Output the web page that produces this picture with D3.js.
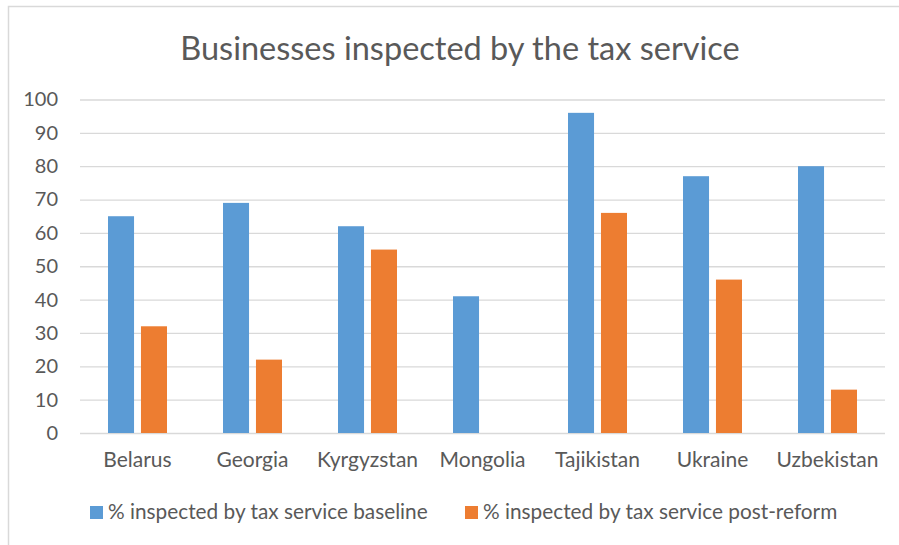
<!DOCTYPE html>
<html>
<head>
<meta charset="utf-8">
<script src="https://cdn.jsdelivr.net/npm/d3@7"></script>
<style>
  body { margin: 0; background: #fff; }
  text { font-family: Lato, "Open Sans", sans-serif; fill: #595959; }
</style>
</head>
<body>
<script>
// chart data
const countries = ["Belarus", "Georgia", "Kyrgyzstan", "Mongolia", "Tajikistan", "Ukraine", "Uzbekistan"]
const baseline = [65, 69, 62, 41, 96, 77, 80]
const postReform = [32, 22, 55, null, 66, 46, 13]
const seriesNames = ["% inspected by tax service baseline", "% inspected by tax service post-reform"]
const yTicks = [0, 10, 20, 30, 40, 50, 60, 70, 80, 90, 100]
const colors = ["#5B9BD5", "#ED7D31"]

const W = 899, H = 545
const plot = {left: 80, right: 885, top: 99.5, bottom: 433}

const svg = d3.select('body').append('svg')
    .attr('width', W)
    .attr('height', H)

// outer chart border (only top + left visible in the crop)
svg.append('path')
    .attr('d', `M8.5,${H} L8.5,6.5 L${W},6.5`)
    .attr('fill', 'none')
    .attr('stroke', '#d9d9d9')
    .attr('stroke-width', 1.5)

// title
svg.append('text')
    .attr('x', 460)
    .attr('y', 60)
    .attr('text-anchor', 'middle')
    .attr('font-size', 32.5)
    .text('Businesses inspected by the tax service')

const y = d3.scaleLinear()
    .domain([0, 100])
    .range([plot.bottom, plot.top])

const x0 = d3.scaleBand()
    .domain(countries)
    .range([plot.left, plot.right])

// two bars of ~26px with ~7px between, centred in each category
const groupW = 59
const x1 = d3.scaleBand()
    .domain([0, 1])
    .range([(x0.bandwidth() - groupW) / 2, (x0.bandwidth() + groupW) / 2])
    .paddingInner(0.21)

// gridlines + y labels
const yAxis = svg.append('g')
    .attr('transform', `translate(${plot.left},0)`)
    .call(d3.axisLeft(y).tickValues(yTicks).tickSize(-(plot.right - plot.left)).tickPadding(22))
yAxis.select('.domain').remove()
yAxis.selectAll('.tick line').attr('stroke', '#d9d9d9').attr('stroke-width', 1.3)
yAxis.selectAll('.tick text')
    .attr('font-size', 20)
    .attr('fill', '#595959')
    .style('font-family', 'Lato, sans-serif')

// bars
const rows = countries.map((c, i) => ({country: c, vals: [baseline[i], postReform[i]]}))
const groups = svg.append('g').selectAll('g')
    .data(rows)
    .join('g')
    .attr('transform', d => `translate(${x0(d.country)},0)`)

groups.selectAll('rect')
    .data(d => d.vals.map((v, k) => ({k, v})).filter(e => e.v != null))
    .join('rect')
    .attr('x', e => x1(e.k))
    .attr('width', x1.bandwidth())
    .attr('y', e => y(e.v))
    .attr('height', e => y(0) - y(e.v))
    .attr('fill', e => colors[e.k])

// category labels
const xAxis = svg.append('g')
    .attr('transform', `translate(0,${plot.bottom})`)
    .call(d3.axisBottom(x0).tickSize(0).tickPadding(19))
xAxis.select('.domain').remove()
xAxis.selectAll('.tick text')
    .attr('font-size', 21)
    .attr('fill', '#595959')
    .style('font-family', 'Lato, sans-serif')

// legend
const legendX = [90, 465]
const legend = svg.append('g').selectAll('g')
    .data(seriesNames)
    .join('g')
    .attr('transform', (d, i) => `translate(${legendX[i]},506)`)
legend.append('rect')
    .attr('width', 13)
    .attr('height', 13)
    .attr('fill', (d, i) => colors[i])
legend.append('text')
    .attr('x', 18)
    .attr('y', 13)
    .attr('font-size', 20.8)
    .text(d => d)
</script>
</body>
</html>
